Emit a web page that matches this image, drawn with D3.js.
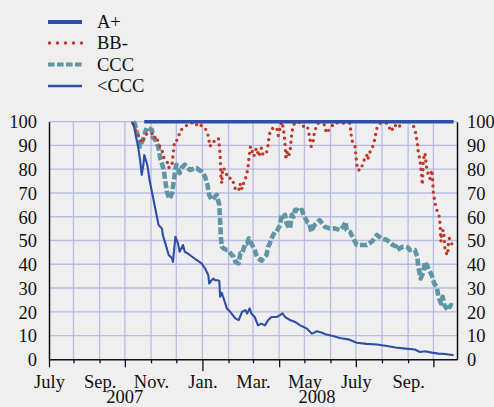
<!DOCTYPE html>
<html><head><meta charset="utf-8">
<script src="https://cdn.jsdelivr.net/npm/d3@7"></script>
<style>
html,body{margin:0;padding:0;background:#efefef;}
svg{display:block;}
svg text{font-family:'Liberation Serif','Tinos','Times New Roman','DejaVu Serif',serif !important;}
</style></head><body>
<svg id="chart" width="494" height="407"></svg>
<script>
// ---------------- data ----------------
const seriesNames = ["A+", "BB-", "CCC", "<CCC"];
const monthLabels = ["July", "Sep.", "Nov.", "Jan.", "Mar.", "May", "July", "Sep."];
const yearLabels = ["2007", "2008"];
const yTicks = [0, 10, 20, 30, 40, 50, 60, 70, 80, 90, 100];

const aPlusDates = ["2007-10-24", "2008-10-25"];
const aPlusValues = [100, 100];

const bbDates = ["2007-10-11","2007-10-15","2007-10-18","2007-10-21","2007-10-22","2007-10-24","2007-10-26","2007-10-28","2007-11-02","2007-11-05","2007-11-07","2007-11-10","2007-11-11","2007-11-15","2007-11-16","2007-11-20","2007-11-22","2007-11-24","2007-11-26","2007-11-27","2007-11-28","2007-11-29","2007-12-01","2007-12-04","2007-12-05","2007-12-07","2007-12-11","2007-12-15","2007-12-22","2007-12-27","2007-12-29","2008-01-04","2008-01-08","2008-01-10","2008-01-13","2008-01-16","2008-01-20","2008-01-21","2008-01-22","2008-01-23","2008-01-24","2008-01-25","2008-01-28","2008-01-31","2008-02-05","2008-02-07","2008-02-09","2008-02-11","2008-02-14","2008-02-15","2008-02-17","2008-02-18","2008-02-22","2008-02-24","2008-02-25","2008-02-26","2008-02-27","2008-02-29","2008-03-02","2008-03-05","2008-03-08","2008-03-11","2008-03-13","2008-03-17","2008-03-19","2008-03-20","2008-03-22","2008-03-25","2008-03-29","2008-03-31","2008-04-04","2008-04-06","2008-04-08","2008-04-09","2008-04-10","2008-04-12","2008-04-14","2008-04-16","2008-04-18","2008-04-22","2008-04-28","2008-04-30","2008-05-01","2008-05-05","2008-05-07","2008-05-09","2008-05-11","2008-05-13","2008-05-17","2008-05-25","2008-05-27","2008-05-31","2008-06-06","2008-06-12","2008-06-24","2008-06-26","2008-06-28","2008-06-30","2008-07-02","2008-07-03","2008-07-07","2008-07-10","2008-07-14","2008-07-15","2008-07-18","2008-07-22","2008-07-24","2008-07-26","2008-07-30","2008-08-07","2008-08-12","2008-08-16","2008-08-20","2008-08-26","2008-09-03","2008-09-07","2008-09-10","2008-09-12","2008-09-13","2008-09-15","2008-09-16","2008-09-17","2008-09-18","2008-09-19","2008-09-21","2008-09-23","2008-09-25","2008-09-27","2008-09-29","2008-09-30","2008-10-01","2008-10-03","2008-10-05","2008-10-08","2008-10-09","2008-10-10","2008-10-11","2008-10-13","2008-10-14","2008-10-15","2008-10-18","2008-10-19","2008-10-20","2008-10-22","2008-10-24"];
const bbValues = [99,95.2,93.8,91,91.7,93,94.5,95.2,95,93,94,91,90,87,85,83.3,80.5,81.9,82,85.4,88.9,91.7,91.7,93.8,96,96.6,98,98.7,100,98,98.7,97.5,94,89.6,91.7,91.7,93,90,86,77,74,80.5,79.7,76.2,76.2,74.1,71.7,72.5,71.3,74,71.7,73.4,77,80.5,84,86.8,89.6,87.5,85.4,88.9,85.4,88.9,86,86.8,90.3,93.8,96.6,97.3,97.6,94.2,100,97.3,91,84,87.5,85.4,87.5,95.2,98.7,100,99.4,98,97,97.3,93.8,89.6,91,95.9,99.4,98.7,95.2,97,99.6,99.4,99.4,92.4,91,89.6,82.6,79.7,79.7,83.3,86,84,87.5,90.3,93.8,97.3,99.4,99.4,95.9,98.7,97.3,100,100,98.7,95.2,91,87.5,84,80.5,77,73.4,84,86.8,80.5,77.6,76,79.7,76.2,69.9,65.7,62.9,60,56.5,49.5,53.7,54.4,50.2,45.3,43.9,50,50.9,48.8,48.3];

const cccDates = ["2007-10-11","2007-10-13","2007-10-19","2007-10-23","2007-10-27","2007-10-29","2007-11-02","2007-11-03","2007-11-06","2007-11-08","2007-11-10","2007-11-12","2007-11-16","2007-11-18","2007-11-20","2007-11-23","2007-11-26","2007-11-28","2007-11-30","2007-12-01","2007-12-05","2007-12-07","2007-12-11","2007-12-17","2007-12-25","2007-12-31","2008-01-04","2008-01-07","2008-01-09","2008-01-12","2008-01-16","2008-01-18","2008-01-21","2008-01-22","2008-01-23","2008-01-24","2008-01-26","2008-01-30","2008-01-31","2008-02-05","2008-02-07","2008-02-09","2008-02-13","2008-02-15","2008-02-17","2008-02-21","2008-02-23","2008-02-25","2008-02-29","2008-03-01","2008-03-03","2008-03-05","2008-03-07","2008-03-11","2008-03-15","2008-03-17","2008-03-19","2008-03-21","2008-03-23","2008-03-25","2008-03-27","2008-03-29","2008-03-31","2008-04-02","2008-04-04","2008-04-06","2008-04-08","2008-04-10","2008-04-13","2008-04-14","2008-04-16","2008-04-18","2008-04-20","2008-04-22","2008-04-26","2008-04-28","2008-04-30","2008-05-01","2008-05-05","2008-05-07","2008-05-09","2008-05-13","2008-05-19","2008-05-25","2008-05-31","2008-06-06","2008-06-12","2008-06-16","2008-06-19","2008-06-20","2008-06-24","2008-06-28","2008-07-02","2008-07-08","2008-07-14","2008-07-20","2008-07-26","2008-07-31","2008-08-07","2008-08-12","2008-08-14","2008-08-18","2008-08-19","2008-08-22","2008-08-26","2008-08-28","2008-09-01","2008-09-03","2008-09-09","2008-09-12","2008-09-13","2008-09-16","2008-09-19","2008-09-21","2008-09-25","2008-09-29","2008-10-02","2008-10-05","2008-10-07","2008-10-10","2008-10-12","2008-10-14","2008-10-18","2008-10-20","2008-10-22","2008-10-24"];
const cccValues = [100,99,89.6,93,97.6,97.3,96.6,93.5,92.4,91,88.9,84.5,80,74.8,70.3,67.5,69.9,75,80,81.9,78.4,80.5,81.9,79.7,80.5,79,77,73.4,69.2,67.1,68.5,69.2,65,57.9,50.9,47.4,46.7,46,46,43.9,43.2,41,40.4,44.6,44.6,48.8,48.8,50.9,48.1,47.4,46,43.9,42.5,41.5,43.2,43.9,47.4,48.8,50.9,52.3,53.7,53.7,55.1,56.5,60.8,60,60.8,57.2,55.1,55.1,60.8,60,62.9,62.9,62.1,62.9,60.8,60,57.5,57.2,53.7,56.5,58.6,55.8,55.1,55.1,54.4,55.8,57.9,54.4,53.7,50.9,48.1,48.1,48.1,49.5,52.3,50.9,50.2,48.8,48.1,47.4,46,46.7,47.4,47.4,47,46,46,43.2,39,34,36.8,41,38.3,35.4,31.9,30.5,26.3,23.5,26.3,22.8,20.7,22.1,22.8,22.5];

const lowDates = ["2007-10-09","2007-10-12","2007-10-14","2007-10-17","2007-10-19","2007-10-21","2007-10-23","2007-10-24","2007-10-27","2007-10-28","2007-10-30","2007-11-02","2007-11-06","2007-11-10","2007-11-14","2007-11-15","2007-11-18","2007-11-22","2007-11-26","2007-11-27","2007-11-30","2007-12-03","2007-12-05","2007-12-09","2007-12-11","2007-12-17","2007-12-25","2007-12-31","2008-01-04","2008-01-08","2008-01-09","2008-01-12","2008-01-14","2008-01-16","2008-01-19","2008-01-21","2008-01-22","2008-01-24","2008-01-30","2008-02-03","2008-02-09","2008-02-13","2008-02-17","2008-02-21","2008-02-23","2008-02-26","2008-02-28","2008-03-03","2008-03-07","2008-03-11","2008-03-15","2008-03-19","2008-03-23","2008-03-29","2008-04-02","2008-04-05","2008-04-08","2008-04-14","2008-04-20","2008-04-26","2008-05-04","2008-05-10","2008-05-16","2008-05-22","2008-05-27","2008-06-04","2008-06-12","2008-06-22","2008-07-02","2008-07-14","2008-07-26","2008-08-07","2008-08-17","2008-08-29","2008-09-09","2008-09-15","2008-09-21","2008-09-29","2008-10-07","2008-10-15","2008-10-25"];
const lowValues = [100,98,94,88.9,84,77.6,82,86,82.6,81,76,70.6,63.6,56.5,55,52.3,48.8,43.9,42.5,41,51.6,48.8,45.3,48.1,45.3,43.9,41.8,40.4,38.3,35.4,31.9,33.3,34,33.3,33.3,33,26.3,28,21.4,20,17.2,16.5,20,20.7,19.3,21.4,19.3,17.8,14.3,15,14.3,16.5,17.8,17.8,18.6,19.3,17.8,16.5,15.7,14.3,12.9,10.8,11.8,11.2,10.4,9.8,9,8.4,7,6.5,6.2,5.6,5.0,4.5,4.1,3.1,3.4,2.8,2.4,2.2,1.7];

// ---------------- layout & style ----------------
const W = 494, H = 407;
const plot = {left: 49, right: 457, top: 121.7, bottom: 359.3};
const colors = {blue: "#2e4fa8", red: "#c0392b", teal: "#5f95a4", grid: "#b7bbe6", axis: "#111", text: "#111"};
const fontFamily = "'Liberation Serif','Tinos','Times New Roman','DejaVu Serif',serif";
const fontSize = 18.5;
const parse = d3.timeParse("%Y-%m-%d");

const svg = d3.select("#chart").attr("font-family", fontFamily);
svg.append("rect").attr("width", W).attr("height", H).attr("fill", "#efefef");

const x = d3.scaleTime()
  .domain([new Date(2007, 6, 3), new Date(2008, 9, 29)])
  .range([plot.left, plot.right]);
const y = d3.scaleLinear().domain([0, 100]).range([plot.bottom, plot.top]);

// gridlines
const monthStarts = d3.timeMonth.range(new Date(2007, 7, 1), new Date(2008, 9, 29));
const grid = svg.append("g").attr("stroke", colors.grid).attr("stroke-width", 1.3);
grid.selectAll("line.h").data(yTicks.filter(v => v > 0)).join("line")
  .attr("x1", plot.left).attr("x2", plot.right)
  .attr("y1", d => y(d)).attr("y2", d => y(d));
grid.selectAll("line.v").data(monthStarts).join("line")
  .attr("x1", d => x(d)).attr("x2", d => x(d))
  .attr("y1", plot.top).attr("y2", plot.bottom);

// series
const mk = (dates, values) => dates.map((d, i) => ({date: parse(d), value: values[i]}));
const line = d3.line().x(d => x(d.date)).y(d => y(d.value));

const series = [
  {name: seriesNames[2], data: mk(cccDates, cccValues), stroke: colors.teal, width: 4.6, dash: "7,2.6", cap: "butt"},
  {name: seriesNames[1], data: mk(bbDates, bbValues), stroke: colors.red, width: 3.4, dash: "0,6.2", cap: "round"},
  {name: seriesNames[3], data: mk(lowDates, lowValues), stroke: colors.blue, width: 2.1, dash: null, cap: "butt"},
  {name: seriesNames[0], data: mk(aPlusDates, aPlusValues), stroke: colors.blue, width: 3.6, dash: null, cap: "butt"}
];
svg.append("g").selectAll("path").data(series).join("path")
  .attr("d", s => line(s.data))
  .attr("fill", "none")
  .attr("stroke", s => s.stroke)
  .attr("stroke-width", s => s.width)
  .attr("stroke-dasharray", s => s.dash)
  .attr("stroke-linecap", s => s.cap)
  .attr("stroke-linejoin", "round");

// axes
const styleText = sel => sel.attr("font-size", fontSize).attr("font-family", fontFamily).attr("fill", colors.text);
const left = svg.append("g").attr("transform", `translate(${plot.left},0)`)
  .call(d3.axisLeft(y).tickValues(yTicks).tickSize(0).tickPadding(12).tickSizeOuter(0));
const right = svg.append("g").attr("transform", `translate(${plot.right},0)`)
  .call(d3.axisRight(y).tickValues(yTicks).tickSize(0).tickPadding(10).tickSizeOuter(0));
[left, right].forEach(g => {
  g.attr("font-family", fontFamily);
  g.select(".domain").attr("stroke", colors.axis).attr("stroke-width", 1.5);
  g.selectAll("text").call(styleText).attr("dy", "0.34em");
});

const xTickVals = [x.domain()[0], ...monthStarts];
const bottom = svg.append("g").attr("transform", `translate(0,${plot.bottom})`)
  .call(d3.axisBottom(x).tickValues(xTickVals).tickSizeOuter(0)
    .tickFormat((d, i) => i % 2 === 0 ? monthLabels[i / 2] : ""));
bottom.attr("font-family", fontFamily);
bottom.select(".domain").attr("stroke", colors.axis).attr("stroke-width", 1.5);
bottom.selectAll(".tick line").attr("stroke", colors.axis).attr("stroke-width", 1.3)
  .attr("y2", (d, i) => {
    if (i === 0) return 8;
    const m = d.getMonth();
    if (m === 0) return 12;
    return (m % 3 === 0) ? 8 : 4;
  });
bottom.selectAll(".tick text").call(styleText).attr("y", 29).attr("dy", 0);

const yearPos = [new Date(2007, 9, 1), new Date(2008, 4, 16)];
svg.append("g").selectAll("text").data(yearLabels).join("text")
  .attr("x", (d, i) => x(yearPos[i]))
  .attr("y", 403)
  .attr("text-anchor", "middle")
  .call(styleText)
  .text(d => d);

// legend
const legend = svg.append("g");
const legendStyle = [
  {stroke: colors.blue, width: 4, dash: null, cap: "butt"},
  {stroke: colors.red, width: 3.4, dash: "0,8", cap: "round"},
  {stroke: colors.teal, width: 4, dash: "6.6,2.4", cap: "butt"},
  {stroke: colors.blue, width: 2.3, dash: null, cap: "butt"}
];
const legendRows = [22, 43, 64.5, 86];
seriesNames.forEach((name, i) => {
  const st = legendStyle[i];
  legend.append("line")
    .attr("x1", i === 1 ? 49.5 : 48).attr("x2", 82)
    .attr("y1", legendRows[i]).attr("y2", legendRows[i])
    .attr("stroke", st.stroke).attr("stroke-width", st.width)
    .attr("stroke-dasharray", st.dash).attr("stroke-linecap", st.cap);
  legend.append("text").attr("x", 97).attr("y", legendRows[i] + 6)
    .call(styleText).text(name);
});
</script>
</body></html>
